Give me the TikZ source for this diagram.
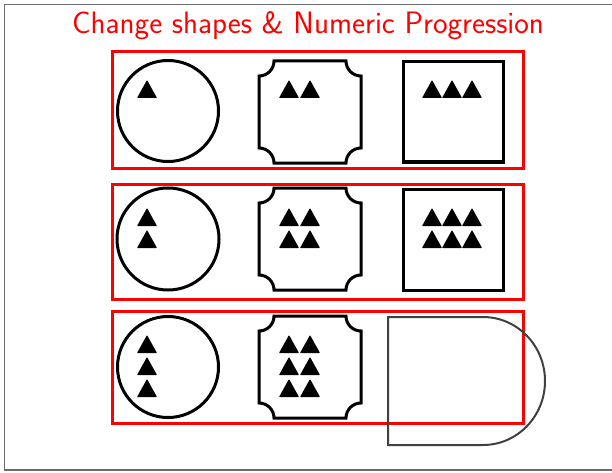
\documentclass[tikz,border=0pt]{standalone}
\usepackage{fontspec}
\begin{document}
\begin{tikzpicture}[x=1pt,y=-1pt,
  frame/.style={draw=gray!85!black,line width=1.6pt},
  redbox/.style={draw=red,line width=3pt},
  shapeline/.style={draw=black,line width=3pt},
  dline/.style={draw=black!75,line width=2pt},
  tri/.pic={\fill[black,rounded corners=0.6pt] (-10,18) -- (0,0) -- (10,18) -- cycle;}]
\useasboundingbox (0,0) rectangle (612,473);
% outer frame
\draw[frame] (612,4.5) -- (4.5,4.5) -- (4.5,470) -- (612,470);
% title
\node[anchor=base,text=red,font=\fontsize{31}{36}\sffamily,inner sep=0pt] (title) at (308,34) {Change shapes \& Numeric Progression};
% red boxes
\draw[redbox] (112,52) rectangle (523,168);
\draw[redbox] (112,184) rectangle (523,299);
\draw[redbox] (112,311) rectangle (523,423);
% circles
\draw[shapeline] (168,111) circle[radius=50.5];
\draw[shapeline] (168,239) circle[radius=51];
\draw[shapeline] (168,367) circle[radius=50.5];
% notched squares
\foreach \cy in {112,239,367}{
  \draw[shapeline,shift={(310,\cy)}] (-36,-51) -- (36,-51)
    arc[start angle=180,end angle=90,radius=15] -- (51,36)
    arc[start angle=270,end angle=180,radius=15] -- (-36,51)
    arc[start angle=360,end angle=270,radius=15] -- (-51,-36)
    arc[start angle=90,end angle=0,radius=15] -- cycle;
}
% squares
\draw[shapeline] (403,62) rectangle (503,162);
\draw[shapeline] (403,189) rectangle (503,290);
% D shape
\draw[dline] (388,317) -- (483,317) arc[start angle=-90,end angle=90,x radius=62,y radius=64] -- (388,445) -- cycle;
% triangles: circles
\pic at (147,80) {tri};
\pic at (147,208) {tri};
\pic at (147,230) {tri};
\foreach \ty in {335,357,379} \pic at (147,\ty) {tri};
% triangles: notched
\foreach \tx in {289,310} \pic at (\tx,80) {tri};
\foreach \tx in {289,310} \foreach \ty in {208,230} \pic at (\tx,\ty) {tri};
\foreach \tx in {289,310} \foreach \ty in {335,357,379} \pic at (\tx,\ty) {tri};
% triangles: squares
\foreach \tx in {432,452,472} \pic at (\tx,80) {tri};
\foreach \tx in {432,452,472} \foreach \ty in {208,230} \pic at (\tx,\ty) {tri};
\end{tikzpicture}
\end{document}
